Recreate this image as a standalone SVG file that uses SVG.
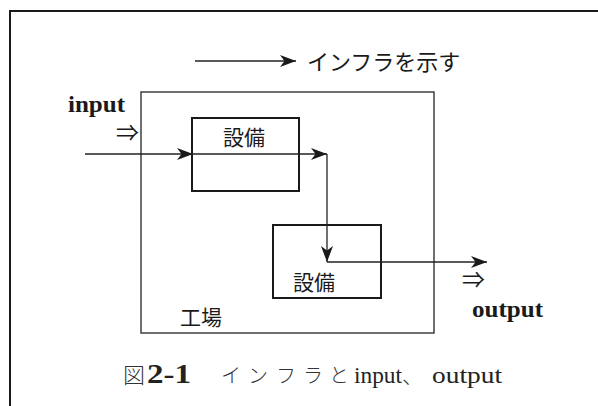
<svg xmlns="http://www.w3.org/2000/svg" width="598" height="406" viewBox="0 0 598 406">
<style>
.jp{font-family:"Noto Sans CJK JP","Noto Sans",sans-serif;fill:#1a1a1a}
.lat{font-family:"Liberation Serif",serif;font-weight:bold;fill:#1a1a1a}
.cap{font-family:"Liberation Serif","Noto Sans CJK JP",serif;fill:#222}
.kana{font-family:"Noto Sans CJK JP",sans-serif;font-weight:300;fill:#333}
.sym{font-family:"Noto Sans CJK JP","DejaVu Sans",sans-serif;fill:#1a1a1a}
.box{fill:none;stroke:#1a1a1a;stroke-width:2}
.conn{fill:none;stroke:#222;stroke-width:1.3}
</style>
<defs>
<marker id="ah" markerUnits="userSpaceOnUse" markerWidth="18" markerHeight="14" refX="16" refY="7" orient="auto">
<path d="M0,1 L16,7 L0,13 L4.5,7 z" fill="#1a1a1a"/>
</marker>
</defs>
<rect width="598" height="406" fill="#ffffff"/>
<path d="M10,406 V11 H598" fill="none" stroke="#1a1a1a" stroke-width="2"/>

<g id="legend">
<text class="jp" x="307" y="70" font-size="22">インフラを示す</text>
</g>

<g id="factory">
<rect x="141" y="92" width="293" height="241" fill="none" stroke="#333" stroke-width="1.4"/>
<text class="jp" x="180" y="325" font-size="21">工場</text>
</g>

<g id="equipment1">
<rect class="box" x="192" y="118" width="107" height="73"/>
<text class="jp" x="223" y="145" font-size="21">設備</text>
</g>

<g id="equipment2">
<rect class="box" x="273" y="225" width="108" height="73"/>
<text class="jp" x="293" y="290" font-size="21">設備</text>
</g>

<g id="input">
<text class="lat" x="68" y="112" font-size="24" textLength="57" lengthAdjust="spacingAndGlyphs">input</text>
<text class="sym" x="116" y="141" font-size="23">⇒</text>
</g>

<g id="output">
<text class="sym" x="462" y="288" font-size="23">⇒</text>
<text class="lat" x="472" y="317" font-size="24" textLength="71" lengthAdjust="spacingAndGlyphs">output</text>
</g>

<g id="connectors">
<line class="conn" x1="195" y1="61" x2="296" y2="61" marker-end="url(#ah)"/>
<line class="conn" x1="85" y1="154" x2="193" y2="154" marker-end="url(#ah)"/>
<line class="conn" x1="193" y1="154" x2="327" y2="154" marker-end="url(#ah)"/>
<line class="conn" x1="327" y1="154" x2="327" y2="262" marker-end="url(#ah)"/>
<line class="conn" x1="327" y1="262" x2="487" y2="262" marker-end="url(#ah)"/>
</g>

<g id="caption">
<text class="kana" x="123" y="383" font-size="22" font-weight="500" fill="#222">図</text>
<text class="cap" x="147" y="383" font-size="27" font-weight="bold" textLength="44" lengthAdjust="spacingAndGlyphs">2-1</text>
<text class="kana" y="383" font-size="20"><tspan x="221">イ</tspan><tspan x="248">ン</tspan><tspan x="276">フ</tspan><tspan x="303">ラ</tspan><tspan x="329">と</tspan></text>
<text class="cap" x="354" y="383" font-size="24" textLength="48" lengthAdjust="spacingAndGlyphs">input</text>
<text class="kana" x="402" y="383" font-size="21">、</text>
<text class="cap" x="432" y="383" font-size="24" textLength="70" lengthAdjust="spacingAndGlyphs">output</text>
</g>
</svg>
